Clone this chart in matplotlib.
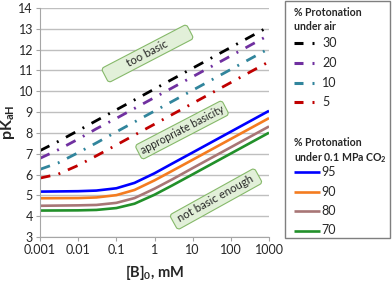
import matplotlib

matplotlib.use("Agg")
import matplotlib.pyplot as plt
from matplotlib.patches import FancyBboxPatch, Rectangle
from matplotlib.transforms import Affine2D, IdentityTransform

plt.rcParams["font.family"] = ["Lato", "DejaVu Sans"]
plt.rcParams["mathtext.fontset"] = "custom"
plt.rcParams["mathtext.rm"] = "Lato"
plt.rcParams["mathtext.bf"] = "Lato:bold"

W, H = 392, 282

# data
conc_air = [0.001, 0.003, 0.01, 0.03, 0.1, 1, 10, 100, 1000]
air_labels = ["30", "20", "10", "5"]
air_30 = [7.15, 7.59, 8.11, 8.59, 9.11, 10.11, 11.11, 12.11, 13.11]
air_20 = [6.78, 7.19, 7.70, 8.20, 8.70, 9.70, 10.70, 11.70, 12.70]
air_10 = [6.25, 6.56, 7.05, 7.52, 8.05, 9.05, 10.05, 11.05, 12.05]
air_5 = [5.83, 6.02, 6.44, 6.90, 7.42, 8.42, 9.42, 10.42, 11.42]

conc_co2 = [0.001, 0.01, 0.03, 0.1, 0.3, 1, 3, 10, 100, 1000]
co2_labels = ["95", "90", "80", "70"]
co2_95 = [5.18, 5.20, 5.23, 5.34, 5.60, 6.06, 6.54, 7.06, 8.06, 9.06]
co2_90 = [4.86, 4.87, 4.90, 5.01, 5.26, 5.72, 6.19, 6.71, 7.71, 8.71]
co2_80 = [4.50, 4.52, 4.54, 4.64, 4.87, 5.32, 5.78, 6.31, 7.31, 8.31]
co2_70 = [4.27, 4.28, 4.30, 4.39, 4.60, 5.03, 5.49, 6.01, 7.01, 8.01]

air_colors = ["#000000", "#7030a0", "#31859c", "#c00000"]
co2_colors = ["#0000ff", "#f47c20", "#a87676", "#22902a"]
DASHDOT = (0, (3.8, 3.0, 0.7, 3.0))
GRID = "#bfbfbf"
TXT = "#262626"

fig = plt.figure(figsize=(W / 100, H / 100), dpi=100)
ax = fig.add_axes([40 / W, 1 - 237 / H, (269 - 40) / W, (237 - 8) / H])

for ys, c in zip([air_30, air_20, air_10, air_5], air_colors):
    ax.plot(conc_air, ys, color=c, lw=2.0, ls=DASHDOT)
for ys, c in zip([co2_95, co2_90, co2_80, co2_70], co2_colors):
    ax.plot(conc_co2, ys, color=c, lw=1.9, solid_capstyle="butt")

ax.set_xscale("log")
ax.set_xlim(0.001, 1000)
ax.set_ylim(3, 14)
ax.set_xticks([0.001, 0.01, 0.1, 1, 10, 100, 1000])
ax.set_xticklabels(["0.001", "0.01", "0.1", "1", "10", "100", "1000"])
ax.minorticks_off()
ax.set_yticks(range(3, 15))
ax.grid(axis="y", color=GRID, lw=1.0)
ax.set_axisbelow(True)
for side in ("top", "right"):
    ax.spines[side].set_visible(False)
for side in ("left", "bottom"):
    ax.spines[side].set_color("#a6a6a6")
ax.tick_params(axis="both", colors="#a6a6a6", labelcolor=TXT, labelsize=9,
               length=3, width=0.8, pad=2)
ax.set_ylabel("pK$_{\\mathbf{aH}}$", fontsize=11.5, fontweight="bold",
              color=TXT, labelpad=1)
ax.set_xlabel("[B]$_{\\mathbf{0}}$, mM", fontsize=10.5, fontweight="bold",
              color=TXT, labelpad=5)

# rounded annotation boxes, placed in pixel coordinates
def note(text, cx, cy, w, h, ang, size=8.2):
    tr = Affine2D().rotate_deg(ang).translate(cx, H - cy) + IdentityTransform()
    box = FancyBboxPatch((-w / 2, -h / 2), w, h,
                         boxstyle="round,pad=0,rounding_size=3",
                         fc="#e2f0d9", ec="#86b96a", lw=0.8, transform=tr)
    fig.patches.append(box)
    fig.text(cx / W, 1 - cy / H, text, rotation=ang, rotation_mode="anchor",
             ha="center", va="center", fontsize=size, color=TXT)


note("too basic", 147.5, 53.5, 96, 16, 27.5)
note("appropriate basicity", 182, 130, 98, 16, 27.5, size=7.7)
note("not basic enough", 216, 199, 97, 17, 29)

# legend panel
lg = fig.add_axes([0, 0, 1, 1], facecolor="none")
lg.set_xlim(0, W)
lg.set_ylim(H, 0)
lg.axis("off")
lg.add_patch(Rectangle((285, 1), 105, 237, fc="white", ec="#7f7f7f", lw=1.0))
lx = 294
hd = dict(fontsize=7.6, fontweight="bold", color=TXT, va="center")
lg.text(lx, 13, "% Protonation", **hd)
lg.text(lx, 27, "under air", **hd)
lg.text(lx, 143, "% Protonation", **hd)
lg.text(lx, 158, "under 0.1 MPa CO$_{\\mathbf{2}}$", **hd)
for i, (lab, c) in enumerate(zip(air_labels, air_colors)):
    y = 43 + i * 19.8
    lg.plot([lx, lx + 9], [y, y], color=c, lw=2.2, solid_capstyle="butt")
    lg.plot([lx + 18, lx + 20], [y, y], color=c, lw=2.2, solid_capstyle="butt")
    lg.text(lx + 28, y, lab, fontsize=9, color=TXT, va="center")
for i, (lab, c) in enumerate(zip(co2_labels, co2_colors)):
    y = 172 + i * 19.5
    lg.plot([lx, lx + 26], [y, y], color=c, lw=1.9, solid_capstyle="butt")
    lg.text(lx + 27, y, lab, fontsize=9, color=TXT, va="center")

fig.savefig("out.png", dpi=100)
